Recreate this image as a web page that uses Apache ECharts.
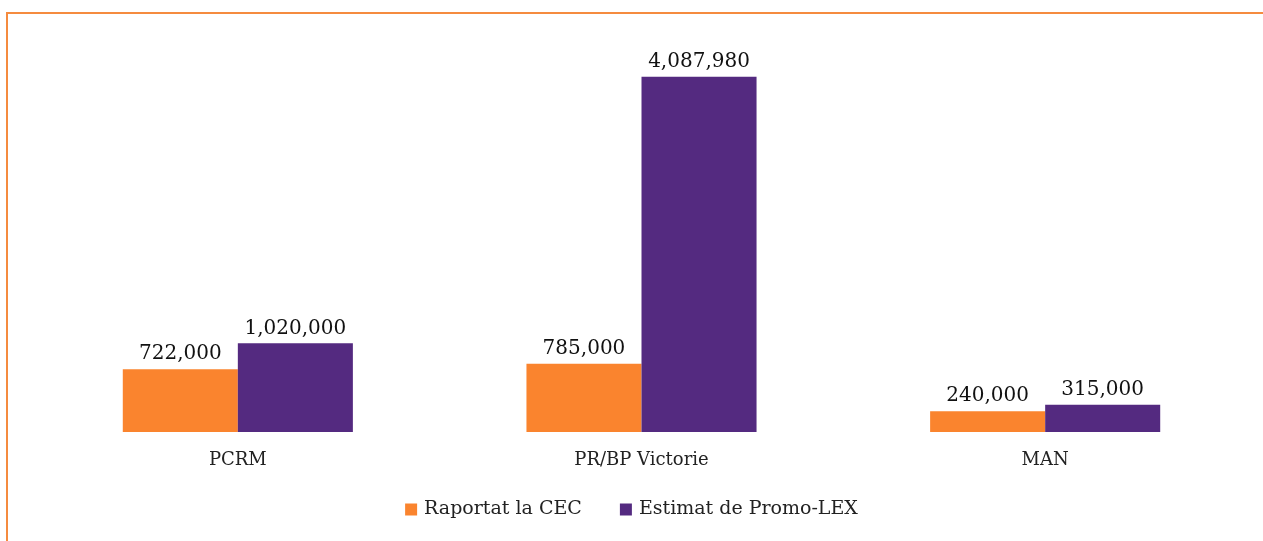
<!DOCTYPE html>
<html lang="ro">
<head>
	<meta charset="UTF-8">
	<title>Raportat vs estimat</title>
	<style>
		* {
			margin: 0;
			padding: 0;
		}

		body {
			background: #fff;
		}

		/* rama portocalie sus si in stanga */
		#frame {
			position: absolute;
			left: 6px;
			top: 12px;
			width: 1257px;
			height: 529px;
			border-top: 2px solid #f58b3f;
			border-left: 2px solid #f58b3f;
		}

		#box {
			position: absolute;
			left: 0;
			top: 0;
			width: 1263px;
			height: 541px;
		}
	</style>
	<script src="https://cdn.jsdelivr.net/npm/echarts@6/dist/echarts.min.js"></script>
</head>
<body>
<div id="frame"></div>
<div id="box"></div>
<script>
	// date
	const categories = ['PCRM', 'PR/BP Victorie', 'MAN'];
	const raportat = [722000, 785000, 240000];
	const estimat = [1020000, 4087980, 315000];

	const fmt = function (p) {
		return p.value.toLocaleString('en-US');
	};

	const myEcharts = echarts.init(document.getElementById('box'));

	myEcharts.setOption({
		animation: false,
		textStyle: {fontFamily: 'DejaVu Serif'},
		grid: {left: 36, right: 16, top: 41, bottom: 109},
		legend: {
			bottom: 17,
			icon: 'rect',
			itemWidth: 12,
			itemHeight: 12,
			itemGap: 38,
			textStyle: {fontSize: 19, color: '#222', fontFamily: 'DejaVu Serif', padding: [0, 0, 0, 2]},
			data: ['Raportat la CEC', 'Estimat de Promo-LEX'],
		},
		xAxis: {
			type: 'category',
			data: categories,
			axisLine: {show: false},
			axisTick: {show: false},
			axisLabel: {fontSize: 18, color: '#222', margin: 19},
		},
		yAxis: {
			type: 'value',
			min: 0,
			max: 4500000,
			show: false,
			splitLine: {show: false},
		},
		series: [
			{
				name: 'Raportat la CEC',
				type: 'bar',
				data: raportat,
				barGap: 0,
				barCategoryGap: '43%',
				itemStyle: {color: '#fa842e'},
				label: {show: true, position: 'top', fontSize: 20, color: '#111', formatter: fmt},
			},
			{
				name: 'Estimat de Promo-LEX',
				type: 'bar',
				data: estimat,
				barGap: 0,
				barCategoryGap: '43%',
				itemStyle: {color: '#542a80'},
				label: {show: true, position: 'top', fontSize: 20, color: '#111', formatter: fmt},
			},
		],
	});
</script>
</body>
</html>
